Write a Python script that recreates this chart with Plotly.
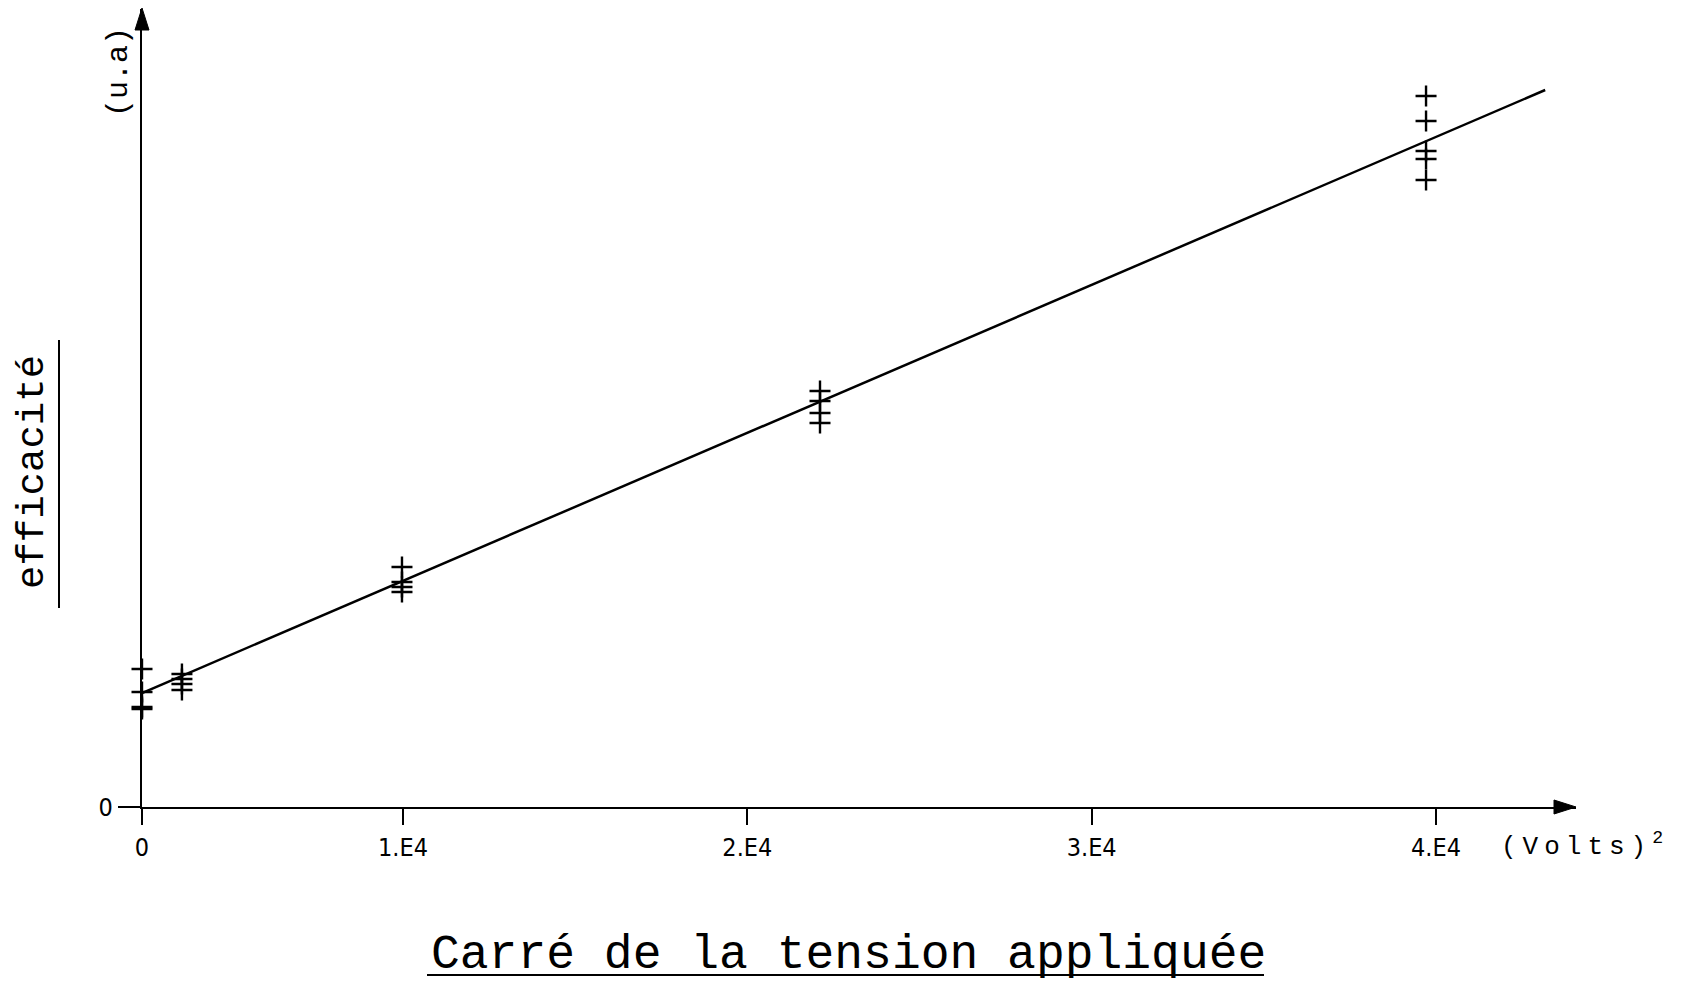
import plotly.graph_objects as go

# ---- data (x in (Volts)^2, y in arbitrary units) ----
x_origin = 2420          # value at which the vertical axis (labelled "0") sits
x_end = 44065            # right end of the horizontal axis

cluster_x = [2420, 3580, 9970, 22110, 39710]
cluster_y = [
    [1.38, 1.15, 1.00, 0.98],
    [1.33, 1.28, 1.23, 1.17],
    [2.40, 2.25, 2.20, 2.15],
    [4.16, 4.06, 3.94, 3.84],
    [7.11, 6.86, 6.56, 6.48, 6.27],
]
fit_x = [2420, 43170]
fit_y = [1.14, 7.17]

tick_vals = [x_origin, 10000, 20000, 30000, 40000]
tick_text = ["0", "1.E4", "2.E4", "3.E4", "4.E4"]
y_max = 7.98

# flatten points
pts_x, pts_y = [], []
for cx, ys in zip(cluster_x, cluster_y):
    for yv in ys:
        pts_x.append(cx)
        pts_y.append(yv)

W, H = 1683, 986
L, R, T, B = 142, 107, 9, 179
PW, PH = W - L - R, H - T - B


def px(xp):
    return (xp - L) / PW


def py(yp):
    return (H - B - yp) / PH


fig = go.Figure()
fig.add_trace(go.Scatter(x=fit_x, y=fit_y, mode="lines",
                         line=dict(color="black", width=2.5),
                         hoverinfo="skip", showlegend=False, cliponaxis=False))
fig.add_trace(go.Scatter(x=pts_x, y=pts_y, mode="markers",
                         marker=dict(symbol="cross-thin", size=15,
                                     line=dict(color="black", width=2.4)),
                         showlegend=False, cliponaxis=False))

tick_font = "DejaVu Sans Condensed, Liberation Sans Narrow, Liberation Mono"
mono = "Liberation Mono"

fig.update_layout(
    width=W, height=H, autosize=False,
    margin=dict(l=L, r=R, t=T, b=B, autoexpand=False),
    paper_bgcolor="white", plot_bgcolor="white",
    xaxis=dict(range=[x_origin, x_end], showgrid=False, zeroline=False,
               showline=True, linecolor="black", linewidth=2.2,
               ticks="outside", ticklen=16, tickwidth=1.5, tickcolor="black",
               tickvals=tick_vals, ticktext=tick_text, automargin=False,
               tickfont=dict(family=tick_font, size=25, color="black"),
               ticklabelstandoff=1),
    yaxis=dict(range=[0, y_max], showgrid=False, zeroline=False,
               showline=True, linecolor="black", linewidth=2.2,
               ticks="outside", ticklen=22, tickwidth=1.5, tickcolor="black",
               tickvals=[0], ticktext=["0"], automargin=False,
               tickfont=dict(family=tick_font, size=25, color="black")),
)

annotations = [
    # unit labels
    dict(x=px(1582), y=py(845), xref="paper", yref="paper", showarrow=False,
         text="<span style=\"letter-spacing:6px\">(Volts)</span><sup>2</sup>",
         font=dict(family=mono, size=26, color="black"),
         xanchor="center", yanchor="middle"),
    dict(x=px(119), y=py(72), xref="paper", yref="paper", showarrow=False,
         text="(u.a)", textangle=-90, font=dict(family=mono, size=30, color="black"),
         xanchor="center", yanchor="middle"),
    # axis titles
    dict(x=px(33), y=py(472), xref="paper", yref="paper", showarrow=False,
         text="efficacité", textangle=-90,
         font=dict(family=mono, size=39, color="black"),
         xanchor="center", yanchor="middle"),
    dict(x=px(848), y=py(955), xref="paper", yref="paper", showarrow=False,
         text="Carré de la tension appliquée",
         font=dict(family=mono, size=48, color="black"),
         xanchor="center", yanchor="middle"),
]
fig.update_layout(annotations=annotations)

# axis arrowheads
fig.add_shape(type="path", xref="paper", yref="paper",
              path=f"M {px(1576)} {py(807)} L {px(1554)} {py(800)} L {px(1554)} {py(814)} Z",
              fillcolor="black", line=dict(color="black", width=1))
fig.add_shape(type="path", xref="paper", yref="paper",
              path=f"M {px(142)} {py(8)} L {px(135)} {py(30)} L {px(149)} {py(30)} Z",
              fillcolor="black", line=dict(color="black", width=1))

# underlines of the titles
fig.add_shape(type="line", xref="paper", yref="paper",
              x0=px(427), x1=px(1264), y0=py(975), y1=py(975),
              line=dict(color="black", width=2))
fig.add_shape(type="line", xref="paper", yref="paper",
              x0=px(59), x1=px(59), y0=py(340), y1=py(608),
              line=dict(color="black", width=2))

fig.write_html("out.html", config={"displayModeBar": False},
               post_script="document.body.style.margin='0';document.body.style.overflow='hidden';")
